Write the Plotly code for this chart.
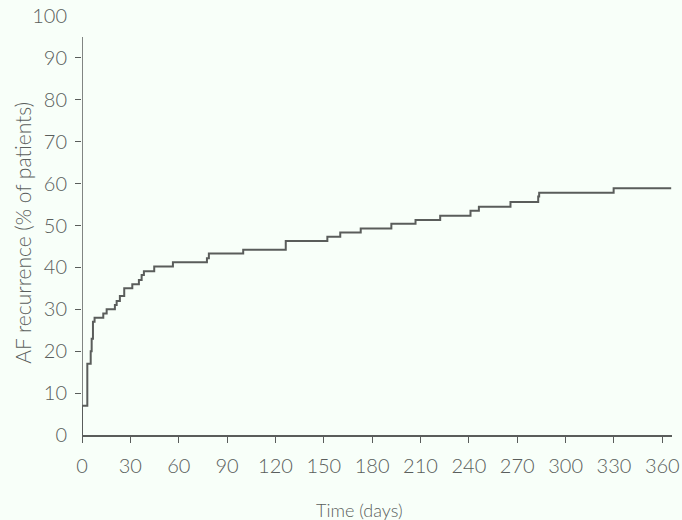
import plotly.graph_objects as go

# Kaplan-Meier style step data
days = [0, 0, 3.3, 5.4, 6.0, 6.8, 7.8, 13.2, 15.3, 20.4, 21.5, 23.5, 26.2, 31.2, 35.3,
        37.0, 38.4, 44.8, 56.4, 77.5, 78.7, 100.0, 126.4, 152.2, 160.2, 172.9, 191.9,
        206.9, 222.2, 241.0, 246.2, 265.8, 283.0, 283.6, 329.8, 365.5]
recurrence = [0, 7, 17, 20, 23, 27, 28, 29, 30, 31, 32, 33.2, 35, 36, 37,
              38.2, 39.1, 40.2, 41.2, 42.2, 43.3, 44.2, 46.3, 47.3, 48.3, 49.3, 50.4,
              51.3, 52.3, 53.5, 54.5, 55.6, 56.9, 57.8, 58.9, 58.9]

x_ticks = [0, 30, 60, 90, 120, 150, 180, 210, 240, 270, 300, 330, 360]
y_labels = [0, 10, 20, 30, 40, 50, 60, 70, 80, 90, 100]
y_tickmarks = [10, 20, 30, 40, 50, 60, 70, 80, 90]

line_col = "#5a5d5b"
text_col = "#5a5e5c"
bg = "#f8fff9"
font_family = "Lato, 'Open Sans', sans-serif"

fig = go.Figure()
fig.add_trace(go.Scatter(
    x=days, y=recurrence, mode="lines", line=dict(shape="hv", color=line_col, width=2),
    hoverinfo="skip", showlegend=False))

fig.update_layout(
    width=682, height=520,
    margin=dict(l=82, r=10, t=16, b=85, autoexpand=False),
    paper_bgcolor=bg, plot_bgcolor=bg,
    font=dict(family=font_family, color=text_col),
    xaxis=dict(
        range=[0, 366], tickvals=x_ticks, ticktext=[str(v) for v in x_ticks],
        showline=True, linecolor=line_col, linewidth=1.5,
        ticks="outside", ticklen=6, tickwidth=1.2, tickcolor=line_col,
        showgrid=False, zeroline=False, automargin=False,
        tickfont=dict(size=20, family=font_family, color=text_col, weight=300),
        ticklabelstandoff=6,
    ),
    yaxis=dict(
        range=[0, 100], tickvals=y_labels, ticktext=[str(v) for v in y_labels],
        showline=False, ticks="", showgrid=False, zeroline=False, automargin=False,
        tickfont=dict(size=20, family=font_family, color=text_col, weight=300),
        ticklabelstandoff=14,
        minor=dict(tickvals=y_tickmarks, ticks="outside", ticklen=6, tickwidth=1.2,
                   tickcolor=line_col, showgrid=False),
    ),
    shapes=[dict(type="line", xref="x", yref="y", x0=0, x1=0, y0=-1.2, y1=95,
                 line=dict(color=line_col, width=1.5))],
    annotations=[
        dict(text="AF recurrence (% of patients)", xref="paper", yref="paper",
             x=-0.102, y=0.482, textangle=-90, showarrow=False,
             xanchor="center", yanchor="middle",
             font=dict(size=21, family=font_family, color=text_col, weight=300)),
        dict(text="Time (days)", xref="paper", yref="paper",
             x=0.471, y=-0.179, showarrow=False, xanchor="center", yanchor="middle",
             font=dict(size=18, family=font_family, color=text_col, weight=300)),
    ],
)

fig.write_html("out.html", config={"displayModeBar": False},
               post_script="document.body.style.margin='0';document.body.style.background='%s';" % bg)
